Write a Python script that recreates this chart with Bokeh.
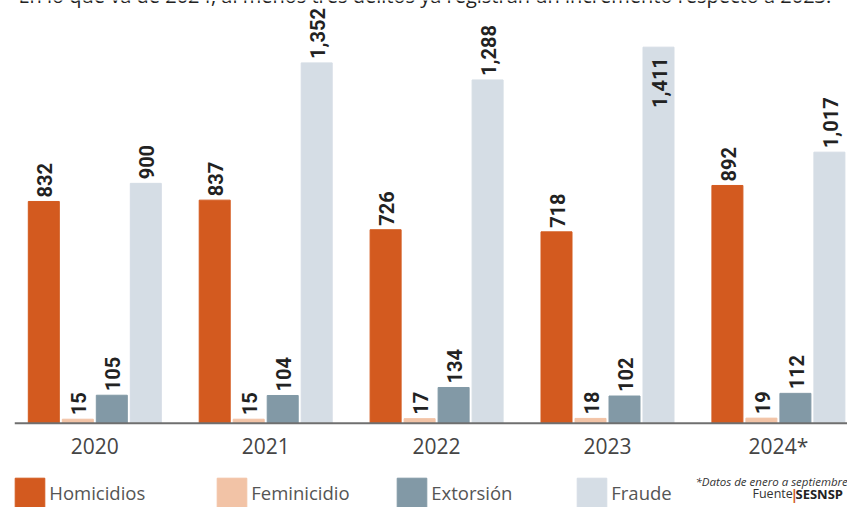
import math
from bokeh.plotting import figure
from bokeh.models import Range1d, Span, Legend, LegendItem, Label
from bokeh.embed import file_html
from bokeh.resources import INLINE
from bokeh.core.properties import value

# ---- data ----
years = ["2020", "2021", "2022", "2023", "2024*"]
series = ["Homicidios", "Feminicidio", "Extorsión", "Fraude"]
homicidios = [832, 837, 726, 718, 892]
feminicidio = [15, 15, 17, 18, 19]
extorsion = [105, 104, 134, 102, 112]
fraude = [900, 1352, 1288, 1411, 1017]
title = "En lo que va de 2024, al menos tres delitos ya registran un incremento respecto a 2023."
footnote = "*Datos de enero a septiembre"
source_label = "Fuente"
source_name = "SESNSP"

values_by_series = [homicidios, feminicidio, extorsion, fraude]
colors = ["#D35A1F", "#F2C3A6", "#8299A6", "#D5DDE5"]

# ---- layout ----
W, H = 847, 507
LEFT = 14
X0, X1 = -0.4699, 4.4043
Y0, Y1 = -316.3, 1586.1
PPU = H / (Y1 - Y0)          # pixels per data unit (vertical)
bar_w = 0.1814
offsets = [-0.2984, -0.0995, 0.0995, 0.2984]

p = figure(width=W, height=H, output_backend="svg", toolbar_location=None,
           x_range=Range1d(X0, X1), y_range=Range1d(Y0, Y1),
           x_axis_location=None, y_axis_location=None,
           min_border_left=LEFT, min_border_right=0,
           min_border_top=0, min_border_bottom=0)
p.grid.visible = False
p.outline_line_color = None
p.background_fill_color = "white"
p.border_fill_color = "white"

FONT = "Open Sans"
LBL_FONT = "Roboto"

renderers = []
out_x, out_y, out_t = [], [], []
in_x, in_y, in_t = [], [], []
for j, vals in enumerate(values_by_series):
    xs = [i + offsets[j] for i in range(len(years))]
    r = p.vbar(x=xs, top=vals, bottom=0, width=bar_w,
               fill_color=colors[j], line_color=colors[j])
    renderers.append(r)
    for x, v in zip(xs, vals):
        t = f"{v:,}"
        est = sum(4 if c == "," else 11.3 for c in t)
        avail = (Y1 - v) * PPU
        if est + 5 <= avail:
            out_x.append(x); out_y.append(v); out_t.append(t)
        else:
            in_x.append(x); in_y.append(v); in_t.append(t)

common = dict(angle=math.pi / 2, text_baseline="middle", text_font=value(LBL_FONT),
              text_font_style="bold", text_font_size="20px", text_color="#222222")
p.text(x=out_x, y=out_y, text=out_t, text_align="left", x_offset=1, y_offset=-4, **common)
p.text(x=in_x, y=in_y, text=in_t, text_align="right", x_offset=1, y_offset=10, **common)

# baseline
p.add_layout(Span(location=0, dimension="width", line_color="#6f6f6f", line_width=2))

# year labels
p.text(x=list(range(len(years))), y=[0] * len(years), text=years,
       text_align="center", text_baseline="alphabetic", y_offset=23,
       text_font=value(FONT), text_font_size="21px", text_color="#454545")

# legends
legend_x = [-2.75, 199.25, 379.25, 559.25]
for j, name in enumerate(series):
    lg = Legend(items=[LegendItem(label=name, renderers=[renderers[j]])],
                location=(legend_x[j], -3.75), orientation="horizontal",
                glyph_width=37, glyph_height=37, label_standoff=1,
                padding=0, margin=0, spacing=0,
                border_line_color=None, background_fill_alpha=0,
                label_text_font=FONT, label_text_font_size="18.5px",
                label_text_color="#555555")
    p.add_layout(lg)

# title (cut at the top edge, as in the source image)
p.add_layout(Label(x=4, y=H + 5, x_units="screen", y_units="screen", text=title,
                   text_font=FONT, text_font_size="20px",
                   text_color="#222222", text_baseline="alphabetic"))

# footnote / source
p.add_layout(Label(x=681, y=26, x_units="screen", y_units="screen", text=footnote,
                   text_font=FONT, text_font_style="italic", text_font_size="11.5px",
                   text_color="#333333", text_baseline="alphabetic"))
p.add_layout(Label(x=738, y=14, x_units="screen", y_units="screen", text=source_label,
                   text_font=FONT, text_font_size="12.5px",
                   text_color="#333333", text_baseline="alphabetic"))
p.add_layout(Label(x=776, y=13, x_units="screen", y_units="screen", text="|",
                   text_font=FONT, text_font_style="bold", text_font_size="14px",
                   text_color="#D35A1F", text_baseline="alphabetic"))
p.add_layout(Label(x=781, y=14, x_units="screen", y_units="screen", text=source_name,
                   text_font=FONT, text_font_style="bold", text_font_size="13px",
                   text_color="#222222", text_baseline="alphabetic"))

open("out.html", "w").write(file_html(p, INLINE))
